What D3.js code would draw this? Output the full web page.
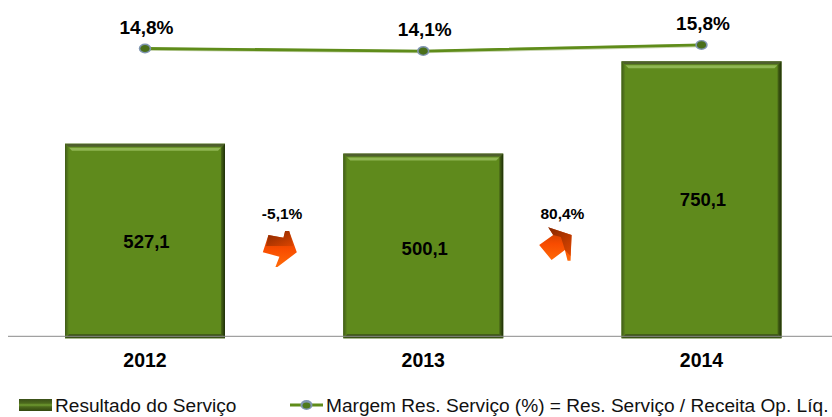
<!DOCTYPE html>
<html><head><meta charset="utf-8">
<script src="https://cdn.jsdelivr.net/npm/d3@7"></script>
<style>html,body{margin:0;padding:0;background:#fff}svg{display:block;font-family:"Liberation Sans",Arial,sans-serif}</style>
</head><body><svg id="c" width="832" height="417"></svg>
<script>
const years = ["2012","2013","2014"];
const resultado = [527.1,500.1,750.1];
const resultadoLabels = ["527,1","500,1","750,1"];
const margem = [14.8,14.1,15.8];
const margemLabels = ["14,8%","14,1%","15,8%"];
const variacao = ["-5,1%","80,4%"];
const legendBar = "Resultado do Serviço";
const legendLine = "Margem Res. Serviço (%) = Res. Serviço / Receita Op. Líq.";

const svg = d3.select("#c");
const defs = svg.append("defs");
const x = d3.scaleBand().domain(years).range([65,781.5]).paddingInner(0.425).paddingOuter(0);
const y = d3.scaleLinear().domain([0,750.1]).range([338.3,61.3]);
const yM = d3.scaleLinear().domain([10,20]).range([65.8,29.8]);

function grad(id,x2,y2,stops){
  const g=defs.append("linearGradient").attr("id",id).attr("x1",0).attr("y1",0).attr("x2",x2).attr("y2",y2);
  stops.forEach(s=>g.append("stop").attr("offset",s[0]).attr("stop-color",s[1]));
}
grad("leftE",1,0,[[0,"#3f5a18"],[1,"#5f8a1c"]]);
grad("rightE",1,0,[[0,"#4a6a16"],[1,"#1e2e08"]]);
grad("arrowA",0,1,[[0,"#c03c00"],[.5,"#f84c00"],[1,"#ff6a08"]]);
grad("arrowB",1,1,[[0,"#7a2400"],[1,"#d84400"]]);
grad("leg",0,1,[[0,"#3a4f18"],[.35,"#4c6a1c"],[.5,"#6f9a30"],[.65,"#4c6a1c"],[1,"#33470f"]]);

const bars = svg.append("g").selectAll("g").data(years).join("g")
  .attr("transform",d=>`translate(${x(d)},0)`);
const bw = x.bandwidth();
const by = (d,i)=>y(resultado[i]);
bars.append("rect").attr("y",by).attr("width",bw).attr("height",(d,i)=>y(0)-by(d,i)).attr("fill","#5f8a1c");
// bevels
bars.append("path").attr("fill","#4e5f2c").attr("d",(d,i)=>{const t=by(d,i);return `M0,${t}H${bw}L${bw-3},${t+3}H3Z`;});
bars.append("path").attr("fill","url(#leftE)").attr("d",(d,i)=>{const t=by(d,i),b=y(0);return `M0,${t}L4,${t+4}V${b-4}L0,${b}Z`;});
bars.append("path").attr("fill","url(#rightE)").attr("d",(d,i)=>{const t=by(d,i),b=y(0);return `M${bw},${t}L${bw-4},${t+4}V${b-4}L${bw},${b}Z`;});
bars.append("path").attr("fill","#3a4f17").attr("d",(d,i)=>{const b=y(0);return `M0,${b}L4,${b-4}H${bw-4}L${bw},${b}Z`;});
bars.append("path").attr("fill","#8fb652").attr("d",(d,i)=>{const t=by(d,i);return `M4,${t+4}H${bw-4}L${bw-7},${t+7}H7Z`;});

svg.append("line").attr("x1",8).attr("x2",832).attr("y1",336.3).attr("y2",336.3).attr("stroke","#8a8a8a").attr("stroke-width",1);

svg.append("g").selectAll("text").data(years).join("text")
  .attr("x",d=>x(d)+bw/2).attr("y",367).attr("text-anchor","middle")
  .attr("font-weight","bold").attr("font-size",19.5).attr("fill","#000").text(d=>d);

const barLabelDy = [7,9,6];
svg.append("g").selectAll("text").data(resultadoLabels).join("text")
  .attr("x",(d,i)=>x(years[i])+bw/2+1.5).attr("y",(d,i)=>(y(resultado[i])+y(0))/2+barLabelDy[i])
  .attr("text-anchor","middle").attr("font-weight","bold").attr("font-size",18.5).attr("fill","#000").text(d=>d);

// margin line
const cx = d=>x(d)+bw/2;
const line = d3.line().x(d=>cx(d.year)).y(d=>yM(d.v));
const lineData = years.map((year,i)=>({year,v:margem[i]}));
svg.append("path").datum(lineData).attr("d",line).attr("fill","none").attr("stroke","#c9d6b0").attr("stroke-width",3.4).attr("transform","translate(0,.6)");
svg.append("path").datum(lineData).attr("d",line).attr("fill","none").attr("stroke","#5f8c1a").attr("stroke-width",2.8);
const mk = svg.append("g").selectAll("g").data(lineData).join("g").attr("transform",d=>`translate(${cx(d.year)},${yM(d.v)})`);
mk.append("ellipse").attr("rx",6.2).attr("ry",5).attr("fill","#7f95b0");
mk.append("ellipse").attr("rx",4.6).attr("ry",3.6).attr("fill","#4a6f1a");
svg.append("g").selectAll("text").data(margemLabels).join("text")
  .attr("x",(d,i)=>cx(years[i])+1.5).attr("y",(d,i)=>yM(margem[i])-15)
  .attr("text-anchor","middle").attr("font-weight","bold").attr("font-size",19).attr("fill","#000").text(d=>d);

// change arrows (shape in local units, placed between bands)
const midX = i=>(cx(years[i])+cx(years[i+1]))/2;
const arrowShapes = [
 {body:"M-11.7,-14L3.3,-11.3L5,-18L9,-18L16.7,3.3L-2.7,18L-4.7,18L-.7,7.7L-17.3,3.3Z",
  shade:"M-11.7,-14L3.3,-11.3L5,-18L9,-18L13,-3L-14,-3Z", dx:-4, yc:249, ty:219, tx:-2},
 {body:"M-6.7,-16.7L16.7,-9L15.7,16.7L12.7,16.7L10,6L-3.3,16L-15.7,1L-1.7,-9Z",
  shade:"M-6.7,-16.7L16.7,-9L15.7,12L10,6L6,-7L-1.7,-9Z", dx:-7.5, yc:244, ty:219, tx:0}
];
const ag = svg.append("g").selectAll("g").data(arrowShapes).join("g")
  .attr("transform",(d,i)=>`translate(${midX(i)+d.dx},${d.yc})`);
ag.append("path").attr("d",d=>d.body).attr("fill","url(#arrowA)");
ag.append("path").attr("d",d=>d.shade).attr("fill","url(#arrowB)").attr("opacity",.85);
svg.append("g").selectAll("text").data(variacao).join("text")
  .attr("x",(d,i)=>midX(i)+arrowShapes[i].tx).attr("y",(d,i)=>arrowShapes[i].ty)
  .attr("text-anchor","middle").attr("font-weight","bold").attr("font-size",15.5).attr("fill","#000").text(d=>d);

// legend
svg.append("rect").attr("x",19).attr("y",399).attr("width",33).attr("height",12).attr("fill","url(#leg)");
svg.append("text").attr("x",55).attr("y",412).attr("font-size",19.1).attr("fill","#111").text(legendBar);
svg.append("line").attr("x1",290).attr("x2",323).attr("y1",405).attr("y2",405).attr("stroke","#5f8c1a").attr("stroke-width",2.8);
svg.append("ellipse").attr("cx",306.5).attr("cy",405).attr("rx",6).attr("ry",5).attr("fill","#7f95b0");
svg.append("ellipse").attr("cx",306.5).attr("cy",405.5).attr("rx",4).attr("ry",3).attr("fill","#4f7a1c");
svg.append("text").attr("x",326).attr("y",412).attr("font-size",19.1).attr("fill","#111").text(legendLine);
</script></body></html>
